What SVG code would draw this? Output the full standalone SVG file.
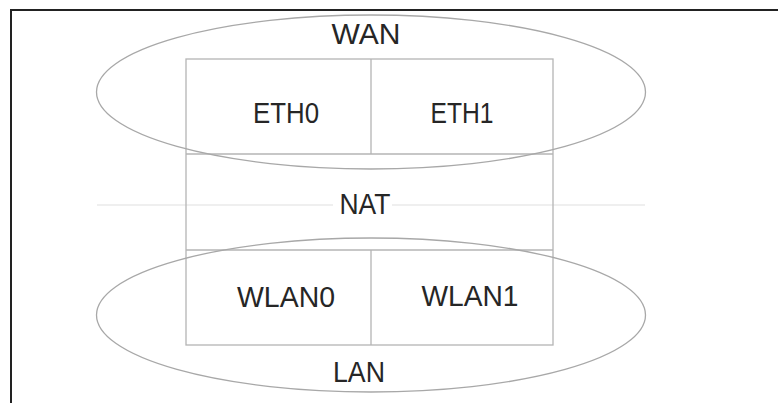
<svg xmlns="http://www.w3.org/2000/svg" width="778" height="403" viewBox="0 0 778 403">
<style>
.lbl{font-family:"Liberation Sans","DejaVu Sans",sans-serif;font-size:29px;fill:#262626;text-anchor:middle}
.box{fill:none;stroke:#b4b4b4;stroke-width:1.3}
.ell{fill:none;stroke:#a8a8a8;stroke-width:1.3}
.frame{fill:none;stroke:#222;stroke-width:2}
.guide{stroke:#e0e0e0;stroke-width:1.2}
</style>
<rect width="778" height="403" fill="#fff"/>
<path class="frame" d="M11 403 V10 H778"/>
<g id="connectors">
<line class="guide" x1="97" y1="205" x2="333" y2="205"/>
<line class="guide" x1="392" y1="205" x2="645" y2="205"/>
</g>
<g id="router">
<rect class="box" x="186" y="59" width="367" height="286"/>
<line class="box" x1="186" y1="154" x2="553" y2="154"/>
<line class="box" x1="186" y1="250" x2="553" y2="250"/>
<line class="box" x1="371" y1="59" x2="371" y2="154"/>
<line class="box" x1="371" y1="250" x2="371" y2="345"/>
</g>
<g id="wan">
<ellipse class="ell" cx="371" cy="92" rx="274.5" ry="77"/>
<text class="lbl" x="366" y="44" textLength="69" lengthAdjust="spacingAndGlyphs">WAN</text>
</g>
<g id="lan">
<ellipse class="ell" cx="371" cy="315" rx="274.5" ry="77"/>
<text class="lbl" x="359" y="382" textLength="52" lengthAdjust="spacingAndGlyphs">LAN</text>
</g>
<g id="eth0"><text class="lbl" x="286" y="123" textLength="66" lengthAdjust="spacingAndGlyphs">ETH0</text></g>
<g id="eth1"><text class="lbl" x="462" y="123" textLength="63" lengthAdjust="spacingAndGlyphs">ETH1</text></g>
<g id="nat"><text class="lbl" x="365" y="214" textLength="51" lengthAdjust="spacingAndGlyphs">NAT</text></g>
<g id="wlan0"><text class="lbl" x="286" y="307" textLength="98" lengthAdjust="spacingAndGlyphs">WLAN0</text></g>
<g id="wlan1"><text class="lbl" x="470" y="306" textLength="97" lengthAdjust="spacingAndGlyphs">WLAN1</text></g>
</svg>
